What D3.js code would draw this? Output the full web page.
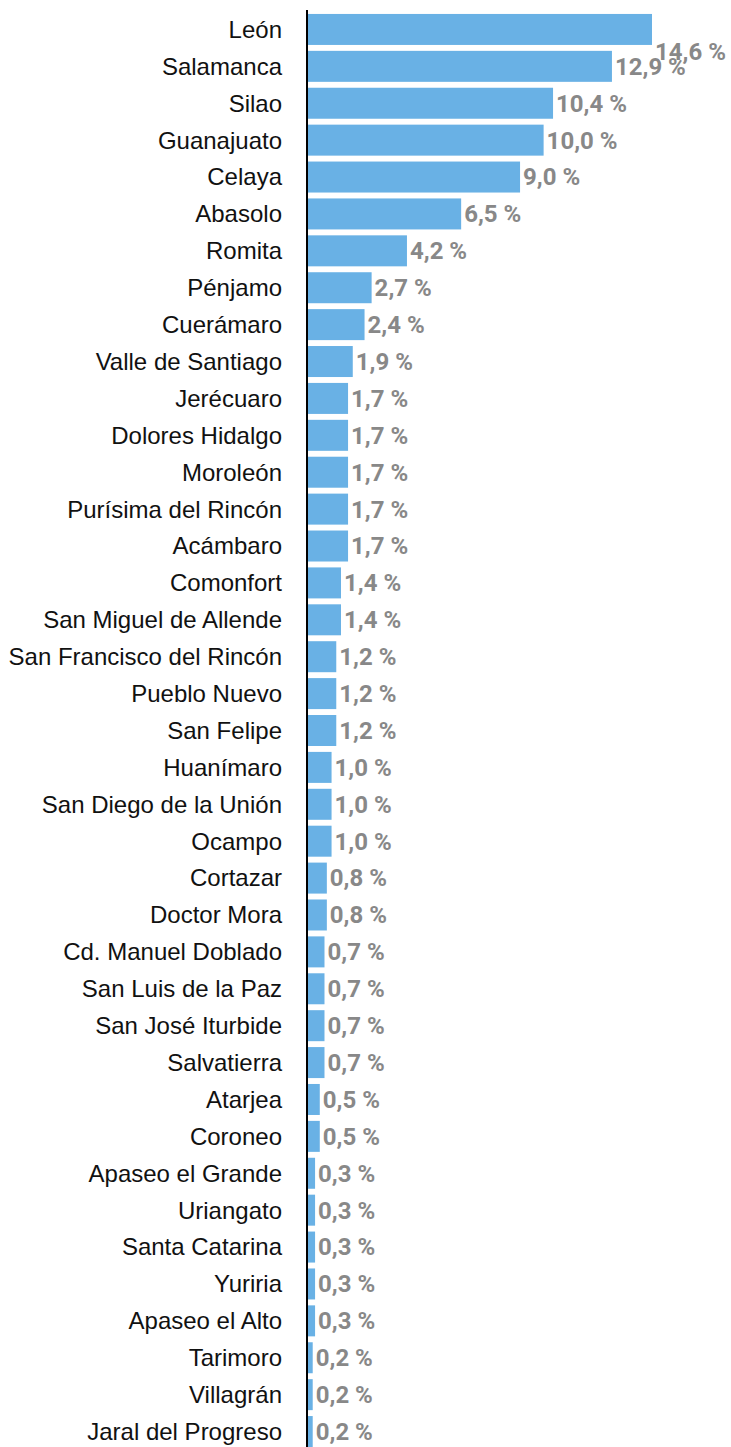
<!DOCTYPE html>
<html><head><meta charset="utf-8">
<script src="https://cdn.jsdelivr.net/npm/d3@7"></script>
<style>body{margin:0;background:#fff}</style>
</head><body>
<script>
const categories = ["León","Salamanca","Silao","Guanajuato","Celaya","Abasolo","Romita","Pénjamo","Cuerámaro","Valle de Santiago","Jerécuaro","Dolores Hidalgo","Moroleón","Purísima del Rincón","Acámbaro","Comonfort","San Miguel de Allende","San Francisco del Rincón","Pueblo Nuevo","San Felipe","Huanímaro","San Diego de la Unión","Ocampo","Cortazar","Doctor Mora","Cd. Manuel Doblado","San Luis de la Paz","San José Iturbide","Salvatierra","Atarjea","Coroneo","Apaseo el Grande","Uriangato","Santa Catarina","Yuriria","Apaseo el Alto","Tarimoro","Villagrán","Jaral del Progreso"];
const values = [14.6,12.9,10.4,10.0,9.0,6.5,4.2,2.7,2.4,1.9,1.7,1.7,1.7,1.7,1.7,1.4,1.4,1.2,1.2,1.2,1.0,1.0,1.0,0.8,0.8,0.7,0.7,0.7,0.7,0.5,0.5,0.3,0.3,0.3,0.3,0.3,0.2,0.2,0.2];
const data = categories.map((c,i)=>({c, v: values[i]}));

const W = 731, H = 1447, x0 = 308;
const svg = d3.select("body").append("svg").attr("width", W).attr("height", H);
const x = d3.scaleLinear().domain([0, 14.6]).range([x0, 652]);
const y = d3.scaleBand().domain(categories).range([11, 1450]).paddingInner(0.16).paddingOuter(0.08);

svg.selectAll("rect.bar").data(data).enter().append("rect")
  .attr("x", x(0)).attr("y", d => y(d.c))
  .attr("width", d => x(d.v) - x(0)).attr("height", y.bandwidth())
  .attr("fill", "#69b1e5");

svg.append("line").attr("x1", x0 - 1).attr("x2", x0 - 1).attr("y1", 10).attr("y2", H)
  .attr("stroke", "#000").attr("stroke-width", 2);

svg.selectAll("text.cat").data(data).enter().append("text")
  .attr("x", x0 - 26).attr("y", d => y(d.c) + y.bandwidth()/2)
  .attr("dy", "0.35em").attr("text-anchor", "end")
  .attr("font-family", "Liberation Sans, Arial, sans-serif").attr("font-size", 24)
  .attr("fill", "#111").text(d => d.c);

const fmt = v => d3.format(".1f")(v).replace(".", ",") + " %";
svg.selectAll("text.val").data(data).enter().append("text")
  .attr("x", d => x(d.v) + 3)
  .attr("y", (d,i) => y(d.c) + y.bandwidth()/2 + (i === 0 ? 22 : 0))
  .attr("dy", "0.35em")
  .attr("font-family", "Roboto, sans-serif").attr("font-weight", "bold").attr("font-size", 24)
  .attr("fill", "#888").text(d => fmt(d.v));
</script>
</body></html>
